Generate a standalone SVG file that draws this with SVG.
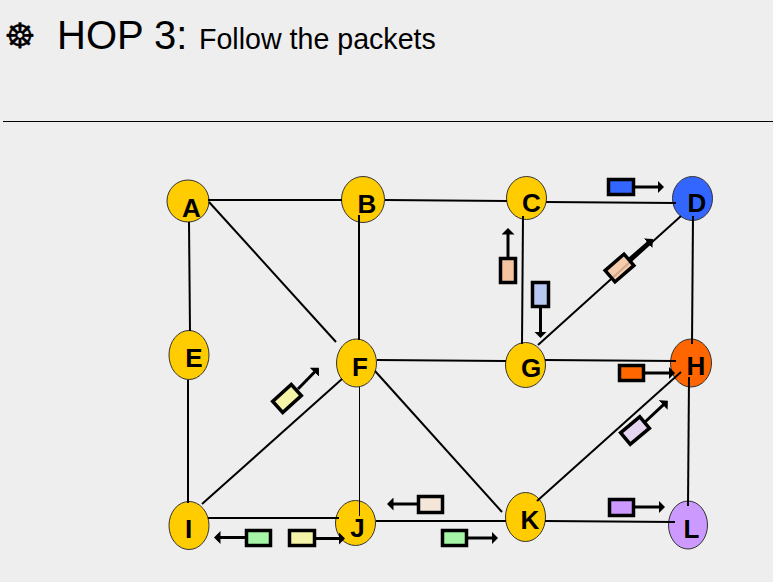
<svg xmlns="http://www.w3.org/2000/svg" width="773" height="582" viewBox="0 0 773 582">
<style>
text{font-family:"Liberation Sans",Arial,sans-serif;fill:#000}
.n{stroke:#333;stroke-width:1}
.y{fill:#ffcc00}
.l{font-size:26px;font-weight:bold;text-anchor:middle}
.c line{stroke:#000;stroke-width:2}
.p{stroke:#000;stroke-width:3.500}
.a{stroke:#000;stroke-width:3;marker-end:url(#h);fill:none}
</style>
<defs>
<marker id="h" markerUnits="userSpaceOnUse" markerWidth="7" markerHeight="13" refX="3.500" refY="6.500" orient="auto" viewBox="0 0 7 13"><path d="M0 0L6.500 6.500L0 13Z" fill="#000"/></marker>
</defs>
<rect width="773" height="582" fill="#eeeeee"/>
<text x="4.250" y="47.800" font-size="35" stroke="#000" stroke-width="0.400" style="font-family:'DejaVu Sans',sans-serif">☸</text>
<text x="57" y="49" font-size="40">HOP 3:</text>
<text x="199" y="49" font-size="28.600">Follow the packets</text>
<line x1="3" y1="121.500" x2="773" y2="121.500" stroke="#000" stroke-width="1"/>
<g id="A"><ellipse class="n y" cx="188" cy="201" rx="21" ry="21"/><text class="l" x="191.500" y="217">A</text></g>
<g id="B"><ellipse class="n y" cx="363" cy="199.500" rx="21.500" ry="23"/><text class="l" x="367" y="213">B</text></g>
<g id="C"><ellipse class="n y" cx="526.500" cy="198" rx="20" ry="21.500"/><text class="l" x="531.500" y="212">C</text></g>
<g id="D"><ellipse class="n" fill="#3366ff" cx="692.500" cy="198.500" rx="20" ry="22"/><text class="l" x="697" y="212">D</text></g>
<g id="E"><ellipse class="n y" cx="189" cy="355" rx="20" ry="24.500"/><text class="l" x="194" y="367">E</text></g>
<g id="F"><ellipse class="n y" cx="356.500" cy="363" rx="20" ry="24"/><text class="l" x="360" y="376">F</text></g>
<g id="G"><ellipse class="n y" cx="525.500" cy="365" rx="20" ry="22.500"/><text class="l" x="531" y="377">G</text></g>
<g id="H"><ellipse class="n" fill="#ff6600" cx="691" cy="363" rx="20.500" ry="24"/><text class="l" x="696" y="375">H</text></g>
<g id="I"><ellipse class="n y" cx="189" cy="525.500" rx="20" ry="24"/><text class="l" x="188.500" y="538">I</text></g>
<g id="J"><ellipse class="n y" cx="355.500" cy="523" rx="20" ry="22.500"/><text class="l" x="357.500" y="537">J</text></g>
<g id="K"><ellipse class="n y" cx="525.500" cy="517" rx="20" ry="24.500"/><text class="l" x="530" y="529">K</text></g>
<g id="L"><ellipse class="n" fill="#cc99ff" cx="688" cy="525" rx="19.500" ry="24"/><text class="l" x="691.500" y="538">L</text></g>
<g id="connectors" class="c">
<line x1="208" y1="200" x2="342" y2="200"/>
<line x1="385" y1="200" x2="507" y2="201"/>
<line x1="546" y1="202" x2="676" y2="203"/>
<line x1="189" y1="222" x2="190" y2="331"/>
<line x1="188" y1="380" x2="188" y2="503"/>
<line x1="209" y1="202" x2="336" y2="342"/>
<line x1="359" y1="215" x2="359" y2="340"/>
<line x1="523" y1="216" x2="522" y2="344"/>
<line x1="693" y1="216" x2="692" y2="344"/>
<line x1="538" y1="345" x2="681" y2="216"/>
<line x1="377" y1="360" x2="506" y2="361"/>
<line x1="545" y1="360" x2="676" y2="361"/>
<line x1="342" y1="379" x2="202" y2="504"/>
<line x1="359.500" y1="387" x2="359.500" y2="516" style="stroke-width:1"/>
<line x1="375" y1="371" x2="502" y2="512"/>
<line x1="208" y1="518" x2="339" y2="518"/>
<line x1="376" y1="521" x2="506" y2="521"/>
<line x1="545" y1="521" x2="675" y2="522"/>
<line x1="537" y1="501" x2="681" y2="372"/>
<line x1="689" y1="377" x2="688" y2="506"/>
</g>
<g id="packets">
<line class="a" x1="635" y1="187" x2="661" y2="187"/><rect class="p" x="608.500" y="179.500" width="25" height="15" fill="#3366ff"/>
<line class="a" x1="508" y1="258" x2="508" y2="231"/><rect class="p" x="500.500" y="258.500" width="15" height="24" fill="#f4c4a0"/>
<line class="a" x1="540.500" y1="307" x2="540.500" y2="335"/><rect class="p" x="532.500" y="282.500" width="16" height="24" fill="#b7c7f2"/>
<line class="a" x1="630" y1="259" x2="650.700" y2="241" style="stroke-width:4"/><rect class="p" x="-12.500" y="-7.500" width="25" height="15" fill="#f4c4a0" fill-opacity="0.850" transform="translate(619.500 268) rotate(-41)"/>
<line class="a" x1="645" y1="373" x2="672" y2="373"/><rect class="p" x="619.500" y="365.500" width="24" height="15" fill="#ff6600"/>
<line class="a" x1="298" y1="389" x2="316.800" y2="369.800"/><rect class="p" x="-12.500" y="-7.500" width="25" height="15" fill="#f4f4a8" transform="translate(287 398.500) rotate(-42)"/>
<line class="a" x1="645" y1="422" x2="665.700" y2="402.700"/><rect class="p" x="-12.500" y="-7.500" width="25" height="15" fill="#e4d4f0" transform="translate(635 430.500) rotate(-40)"/>
<line class="a" x1="246" y1="537.500" x2="217" y2="537.500"/><rect class="p" x="246.500" y="530.500" width="24" height="15" fill="#a6f5a6"/>
<line class="a" x1="314" y1="538.500" x2="342" y2="538.500"/><rect class="p" x="289.500" y="530.500" width="25" height="15" fill="#f4f4a8"/>
<line class="a" x1="418" y1="504" x2="390" y2="504"/><rect class="p" x="418.500" y="496.500" width="24" height="16" fill="#f4e6d8"/>
<line class="a" x1="467" y1="538" x2="495" y2="538"/><rect class="p" x="442.500" y="530.500" width="24" height="15" fill="#a6f5a6"/>
<line class="a" x1="634" y1="507" x2="662" y2="507"/><rect class="p" x="609.500" y="499.500" width="24" height="16" fill="#cc99ff"/>
</g>
</svg>
